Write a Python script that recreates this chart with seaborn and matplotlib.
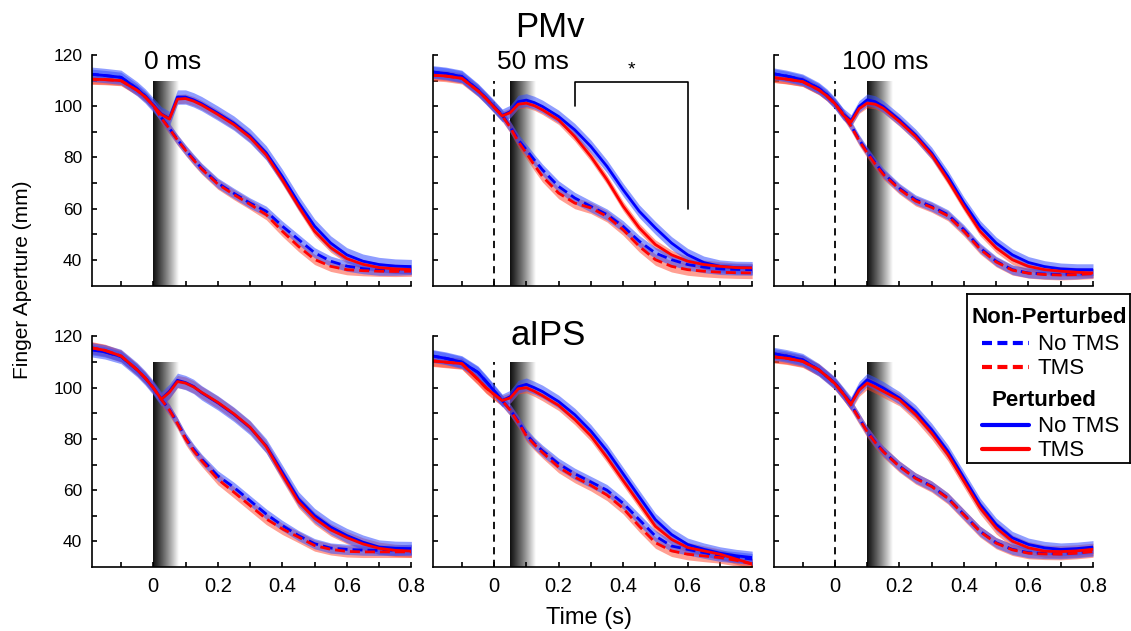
#!/usr/bin/env python
import numpy as np
import pandas as pd
import matplotlib
matplotlib.use('agg')
import matplotlib.pyplot as plt
import seaborn as sns

# time samples (s)
TIME = [-0.2, -0.15, -0.1, -0.05, -0.025, 0.0, 0.025, 0.05, 0.075, 0.1, 0.125, 0.15,
        0.2, 0.25, 0.3, 0.35, 0.4, 0.45, 0.5, 0.55, 0.6, 0.65, 0.7, 0.75, 0.8]

# ---- PMv, TMS at 0 ms
PMV0_NP_NOTMS = [112.6, 112.0, 111.3, 106.8, 104.0, 100.5, 95.6, 91.4, 87.0, 83.0, 79.3, 75.8,
                 70.0, 66.0, 62.2, 59.0, 53.2, 48.0, 42.8, 39.5, 37.6, 36.6, 36.0, 36.0, 36.2]
PMV0_NP_TMS = [110.6, 110.4, 110.0, 106.2, 103.6, 100.3, 95.4, 91.2, 86.8, 82.8, 79.0, 75.5,
               69.6, 65.5, 61.7, 57.7, 51.2, 45.3, 40.2, 37.5, 36.2, 35.8, 35.6, 35.5, 35.6]
PMV0_P_NOTMS = [112.6, 112.0, 111.3, 106.8, 104.0, 100.5, 97.0, 95.2, 103.6, 103.6, 102.5, 101.0,
                97.3, 93.4, 88.4, 81.8, 72.6, 62.4, 53.2, 46.6, 42.0, 39.5, 38.2, 37.6, 37.4]
PMV0_P_TMS = [110.6, 110.4, 110.0, 106.2, 103.6, 100.3, 96.8, 95.0, 102.8, 103.0, 102.0, 100.5,
              96.8, 92.8, 87.8, 81.0, 71.3, 61.0, 51.2, 44.8, 40.5, 38.3, 37.0, 36.5, 36.2]
PMV0_SEM = [2.0, 2.0, 2.8, 1.8]

# ---- PMv, TMS at 50 ms
PMV50_NP_NOTMS = [113.5, 112.8, 111.6, 106.4, 103.2, 99.9, 96.6, 92.0, 86.9, 83.0, 79.0, 75.2,
                  68.7, 64.2, 60.9, 57.7, 53.1, 47.3, 42.7, 40.1, 38.2, 37.2, 36.5, 36.3, 36.2]
PMV50_NP_TMS = [112.2, 111.8, 110.9, 106.0, 103.0, 99.6, 96.3, 91.8, 86.2, 81.7, 77.0, 72.6,
                66.1, 62.2, 60.3, 57.0, 51.8, 45.3, 40.1, 37.5, 36.2, 35.6, 35.2, 35.0, 34.9]
PMV50_P_NOTMS = [113.5, 112.8, 111.6, 106.4, 103.2, 99.9, 96.4, 97.9, 101.8, 102.4, 101.4, 99.9,
                 96.0, 90.8, 84.3, 76.5, 67.4, 59.0, 52.5, 46.6, 42.0, 39.0, 37.5, 37.0, 36.9]
PMV50_P_TMS = [112.2, 111.8, 110.9, 106.0, 103.0, 99.6, 96.2, 97.5, 100.8, 101.2, 100.2, 98.6,
               94.7, 88.2, 80.4, 71.3, 61.0, 52.5, 46.0, 42.0, 39.5, 38.2, 37.5, 37.0, 36.9]
PMV50_SEM = [2.2, 2.2, 2.5, 1.8]

# ---- PMv, TMS at 100 ms
PMV100_NP_NOTMS = [112.9, 111.8, 110.3, 107.0, 104.5, 101.2, 97.3, 92.5, 87.0, 82.3, 77.9, 73.9,
                   68.0, 63.5, 60.9, 57.7, 51.8, 44.7, 39.5, 36.2, 34.9, 34.5, 34.3, 34.5, 34.9]
PMV100_NP_TMS = [111.3, 110.6, 109.6, 106.4, 104.0, 101.0, 97.0, 92.2, 86.6, 81.8, 77.4, 73.4,
                 67.6, 63.0, 60.5, 57.2, 51.2, 44.2, 39.2, 36.0, 34.8, 34.3, 34.1, 34.3, 34.6]
PMV100_P_NOTMS = [112.9, 111.8, 110.3, 107.0, 104.5, 101.2, 97.0, 94.4, 99.9, 102.5, 101.8, 99.9,
                  94.7, 88.8, 81.7, 72.6, 62.2, 53.1, 46.6, 42.0, 39.0, 37.4, 36.5, 36.2, 36.2]
PMV100_P_TMS = [111.3, 110.6, 109.6, 106.4, 104.0, 101.0, 96.6, 93.8, 99.0, 101.2, 100.8, 99.2,
                94.0, 88.2, 81.0, 71.3, 60.9, 51.2, 44.7, 40.1, 37.5, 36.2, 35.6, 35.2, 34.9]
PMV100_SEM = [1.9, 1.9, 2.3, 1.8]

# ---- aIPS, TMS at 0 ms
AIPS0_NP_NOTMS = [115.0, 114.0, 112.2, 107.0, 103.8, 100.0, 95.4, 91.5, 86.3, 80.5, 76.0, 72.1,
                  65.6, 61.1, 55.9, 50.7, 46.2, 42.3, 39.1, 37.4, 36.9, 36.6, 36.5, 36.6, 36.9]
AIPS0_NP_TMS = [115.8, 114.6, 112.4, 107.0, 103.8, 100.0, 95.4, 91.3, 86.0, 80.0, 75.4, 71.5,
                64.3, 59.2, 54.0, 48.8, 44.9, 41.7, 38.4, 36.9, 36.1, 35.9, 35.9, 35.9, 35.9]
AIPS0_P_NOTMS = [115.0, 114.0, 112.2, 107.0, 103.8, 100.0, 95.6, 98.6, 102.9, 102.0, 100.5, 98.0,
                 94.1, 89.6, 84.4, 77.3, 67.0, 56.6, 50.1, 45.6, 42.3, 39.7, 37.8, 37.3, 37.2]
AIPS0_P_TMS = [115.8, 114.6, 112.4, 107.0, 103.8, 100.0, 95.5, 98.2, 102.4, 101.8, 100.3, 98.2,
               94.3, 89.8, 84.6, 77.0, 66.0, 55.5, 49.0, 44.5, 41.5, 39.0, 37.3, 36.5, 36.2]
AIPS0_SEM = [2.0, 2.2, 2.8, 2.4]

# ---- aIPS, TMS at 50 ms
AIPS50_NP_NOTMS = [112.6, 111.5, 110.0, 106.0, 102.5, 98.8, 95.0, 91.4, 86.9, 81.8, 78.3, 75.4,
                   70.3, 66.4, 63.2, 60.0, 54.9, 48.5, 42.1, 38.2, 36.9, 35.6, 34.4, 33.8, 33.1]
AIPS50_NP_TMS = [110.6, 110.0, 109.4, 103.3, 100.0, 97.4, 95.0, 91.2, 86.5, 81.2, 77.8, 74.7,
                 69.0, 65.1, 61.9, 58.1, 52.9, 45.9, 39.5, 36.3, 35.0, 34.3, 33.7, 32.6, 31.2]
AIPS50_P_NOTMS = [112.6, 111.5, 110.0, 106.0, 102.5, 98.8, 95.0, 96.5, 100.4, 101.3, 100.0, 98.5,
                  94.6, 89.5, 83.1, 75.4, 66.4, 57.4, 48.5, 42.7, 38.8, 36.9, 35.4, 34.4, 33.7]
AIPS50_P_TMS = [110.6, 110.0, 109.4, 103.3, 100.0, 97.4, 95.0, 96.0, 99.6, 100.0, 98.6, 96.9,
                93.1, 87.6, 81.2, 72.8, 63.8, 54.9, 45.9, 40.8, 37.6, 36.3, 35.0, 33.1, 31.2]
AIPS50_SEM = [2.2, 2.2, 2.5, 2.0]

# ---- aIPS, TMS at 100 ms
AIPS100_NP_NOTMS = [113.5, 112.4, 110.9, 107.0, 104.4, 101.8, 97.9, 93.4, 88.2, 83.0, 78.8, 75.2,
                    69.4, 64.8, 61.6, 57.0, 50.5, 44.0, 39.5, 36.9, 35.6, 35.3, 35.2, 35.6, 36.2]
AIPS100_NP_TMS = [112.2, 111.5, 110.3, 107.0, 104.4, 101.6, 97.7, 93.2, 88.0, 82.8, 78.6, 75.0,
                  69.2, 64.6, 61.4, 56.8, 50.3, 43.8, 39.3, 36.7, 35.4, 35.1, 35.0, 35.4, 36.0]
AIPS100_P_NOTMS = [113.5, 112.4, 110.9, 107.0, 104.4, 101.8, 97.9, 94.0, 99.9, 103.1, 101.6, 99.9,
                   96.0, 90.8, 83.6, 75.2, 64.8, 54.4, 46.6, 41.4, 38.8, 37.5, 36.9, 37.2, 37.8]
AIPS100_P_TMS = [112.2, 111.5, 110.3, 107.0, 104.4, 101.6, 97.7, 93.6, 99.0, 101.8, 100.3, 98.6,
                 95.3, 89.5, 82.3, 73.9, 63.5, 53.1, 45.3, 40.1, 37.5, 36.2, 36.0, 36.3, 36.9]
AIPS100_SEM = [2.0, 2.2, 2.5, 2.4]

ONSETS = [0.0, 0.05, 0.1]
ONSET_LABELS = ["0 ms", "50 ms", "100 ms"]
LABEL_X = [0.06, 0.12, 0.155]
# significance bracket (PMv, 50 ms)
SIG_T = [0.25, 0.6]
SIG_Y = [100, 109.5, 60]

ROWS = [
    [(PMV0_NP_NOTMS, PMV0_NP_TMS, PMV0_P_NOTMS, PMV0_P_TMS, PMV0_SEM),
     (PMV50_NP_NOTMS, PMV50_NP_TMS, PMV50_P_NOTMS, PMV50_P_TMS, PMV50_SEM),
     (PMV100_NP_NOTMS, PMV100_NP_TMS, PMV100_P_NOTMS, PMV100_P_TMS, PMV100_SEM)],
    [(AIPS0_NP_NOTMS, AIPS0_NP_TMS, AIPS0_P_NOTMS, AIPS0_P_TMS, AIPS0_SEM),
     (AIPS50_NP_NOTMS, AIPS50_NP_TMS, AIPS50_P_NOTMS, AIPS50_P_TMS, AIPS50_SEM),
     (AIPS100_NP_NOTMS, AIPS100_NP_TMS, AIPS100_P_NOTMS, AIPS100_P_TMS, AIPS100_SEM)],
]

COND = [("Non-Perturbed", "No TMS"), ("Non-Perturbed", "TMS"),
        ("Perturbed", "No TMS"), ("Perturbed", "TMS")]
PAL = {"No TMS": (0, 0, 1), "TMS": (1, 0, 0)}
FILL = {"No TMS": ((0.2, 0.3, 1.0), 0.55), "TMS": ((1.0, 0.25, 0.15), 0.5)}
DASHES = {"Non-Perturbed": (3.6, 1.8), "Perturbed": ""}


def panel_df(curves):
    frames = []
    for (cond, tms), vals in zip(COND, curves):
        frames.append(pd.DataFrame({"t": TIME, "aperture": vals, "cond": cond, "tms": tms}))
    return pd.concat(frames, ignore_index=True)


def draw_panel(ax, curves, sem, onset):
    # TMS gradient bar
    grad = np.linspace(0.1, 1.0, 128) ** 1.2
    ax.imshow(grad[None, :], cmap="gray", vmin=0, vmax=1, aspect="auto",
              extent=[onset, onset + 0.08, 30, 110], zorder=0.5, interpolation="bilinear")
    if onset > 0:
        ax.vlines(0, 30, 110, colors="k", linestyles=(0, (4, 3)), lw=1.3, zorder=0.6)
    # red bands first, blue on top
    for idx in [1, 3, 0, 2]:
        cond, tms = COND[idx]
        v = np.array(curves[idx])
        s = sem[idx]
        c, a = FILL[tms]
        ax.fill_between(TIME, v - s, v + s, color=c, alpha=a, lw=0, zorder=1)
    df = panel_df(curves)
    sns.lineplot(data=df, x="t", y="aperture", hue="tms", style="cond",
                 palette=PAL, dashes=DASHES, estimator=None, sort=False,
                 legend=False, lw=2, ax=ax, zorder=2)
    ax.set_xlim(-0.19, 0.8)
    ax.set_ylim(30, 120)


sns.set_style("ticks")
plt.rcParams['font.family'] = ['Liberation Sans', 'DejaVu Sans']
plt.rcParams['text.color'] = 'black'
plt.rcParams['axes.labelcolor'] = 'black'
plt.rcParams['xtick.color'] = 'black'
plt.rcParams['ytick.color'] = 'black'

fig, axes = plt.subplots(2, 3, figsize=(11.31, 6.31), dpi=100)
fig.subplots_adjust(left=0.0813, right=0.9664, bottom=0.1014, top=0.9128,
                    wspace=0.067, hspace=0.221)

for r in range(2):
    for c in range(3):
        ax = axes[r, c]
        curves = ROWS[r][c][:4]
        sem = ROWS[r][c][4]
        draw_panel(ax, curves, sem, ONSETS[c])
        ax.set_xlabel("")
        ax.set_ylabel("")
        ax.set_xticks([0, 0.2, 0.4, 0.6, 0.8])
        ax.set_xticks([-0.1, 0.1, 0.3, 0.5, 0.7], minor=True)
        ax.set_yticks([40, 60, 80, 100, 120])
        ax.set_yticks([50, 70, 90, 110], minor=True)
        ax.set_xticklabels(["0", "0.2", "0.4", "0.6", "0.8"])
        ax.tick_params(which="both", direction="in", length=3.5, width=1.2,
                       color="k", labelcolor="k")
        ax.tick_params(axis="y", labelsize=12.5, pad=7)
        ax.tick_params(axis="x", labelsize=14.5, pad=7)
        if c > 0:
            ax.tick_params(axis="y", labelleft=False)
        if r == 0:
            ax.tick_params(axis="x", labelbottom=False)
            ax.text(LABEL_X[c], 114.5, ONSET_LABELS[c], fontsize=19, ha="center",
                    va="baseline", color="k", zorder=5)
        for sp in ["left", "bottom"]:
            ax.spines[sp].set_linewidth(1.2)
            ax.spines[sp].set_color("k")
        sns.despine(ax=ax)

# significance bracket
ax = axes[0, 1]
ax.plot([SIG_T[0], SIG_T[0], SIG_T[1], SIG_T[1]],
        [SIG_Y[0], SIG_Y[1], SIG_Y[1], SIG_Y[2]], color="k", lw=1.2, zorder=4)
ax.text(np.mean(SIG_T), SIG_Y[1] + 1.5, "*", fontsize=14, ha="center", va="bottom", color="k")

fig.text(0.4865, 1 - 37 / 631, "PMv", fontsize=25, ha="center", va="baseline", color="k")
fig.text(0.4845, 1 - 345 / 631, "aIPS", fontsize=25, ha="center", va="baseline", color="k")
fig.text(0.0203, 0.556, "Finger Aperture (mm)", fontsize=15, rotation=90,
         ha="center", va="center", color="k")
fig.text(0.5208, 1 - 618 / 631, "Time (s)", fontsize=17, ha="center", va="center", color="k")

# legend box
lax = fig.add_axes([967 / 1131, 1 - 463 / 631, 163 / 1131, 169 / 631])
lax.set_xlim(0, 163)
lax.set_ylim(169, 0)
lax.set_xticks([])
lax.set_yticks([])
for sp in lax.spines.values():
    sp.set_visible(True)
    sp.set_linewidth(1.3)
    sp.set_color("k")
lax.text(82, 29, "Non-Perturbed", fontsize=16, fontweight="bold", ha="center", va="baseline")
lax.text(77, 112, "Perturbed", fontsize=16, fontweight="bold", ha="center", va="baseline")
legend_rows = [("No TMS", "Non-Perturbed", 49), ("TMS", "Non-Perturbed", 73),
               ("No TMS", "Perturbed", 131), ("TMS", "Perturbed", 155)]
for tms, cond, y in legend_rows:
    ls = (0, (2.4, 1.3)) if cond == "Non-Perturbed" else "-"
    lax.plot([15, 62], [y, y], color=PAL[tms], lw=3, linestyle=ls)
    lax.text(71, y + 6.5, tms, fontsize=16, ha="left", va="baseline")

fig.savefig("out.png", dpi=100)
